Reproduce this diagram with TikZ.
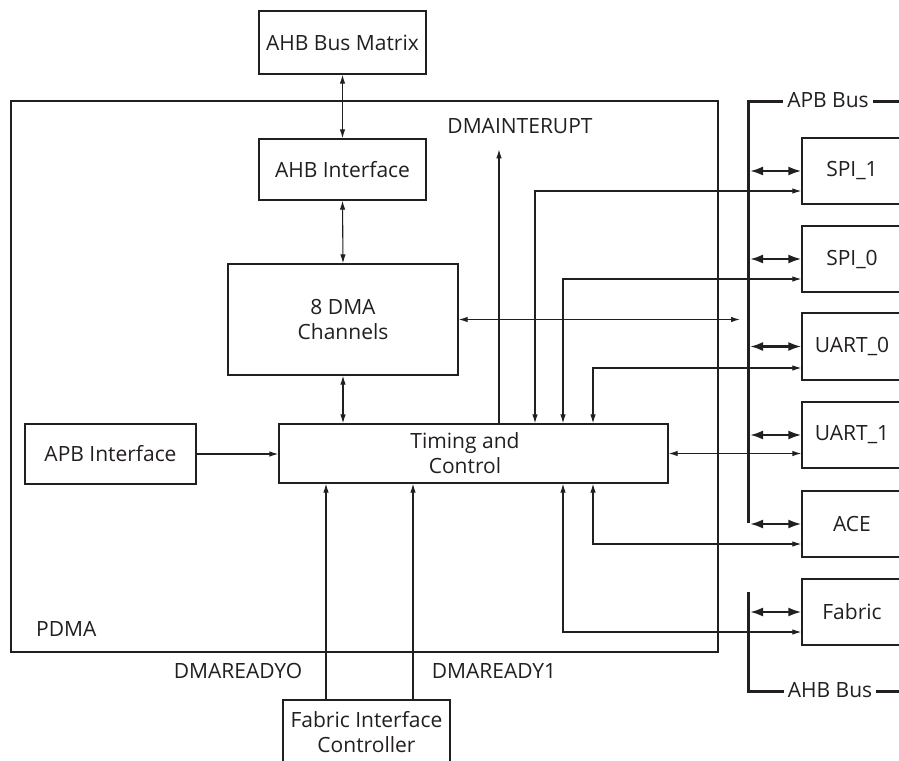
\documentclass[tikz,border=0pt]{standalone}
\usepackage{fontspec}
\setmainfont{Open Sans}
\usetikzlibrary{arrows.meta,calc}
\definecolor{ink}{HTML}{231F20}
\begin{document}
\begin{tikzpicture}[x=1pt,y=-1pt, font=\fontsize{21}{25}\selectfont, color=ink,
 box/.style={draw=ink, line width=1.3pt, inner sep=0pt, align=center},
 sig/.style={line width=1.1pt, -{Latex[length=9pt,width=5.5pt]}},
 sigb/.style={line width=1.1pt, {Latex[length=9pt,width=5.5pt]}-{Latex[length=9pt,width=5.5pt]}},
 bus/.style={line width=3pt},
 busarr/.style={line width=2.2pt, {Latex[length=13pt,width=9pt]}-{Latex[length=13pt,width=9pt]}},
 lbl/.style={inner sep=0pt}]
\useasboundingbox (0,0) rectangle (899,760);
\clip (0,0) rectangle (899,760);
\fill[white] (0,0) rectangle (899,760);
% boxes
\node[box, minimum width=707pt, minimum height=551pt] (pdma) at (364.5,376.5) {};
\node[box, minimum width=167pt, minimum height=63pt] (mat) at (342.5,42.5) {AHB Bus Matrix};
\node[box, minimum width=167pt, minimum height=61pt] (ahbi) at (342.5,169.5) {AHB Interface};
\node[box, minimum width=230pt, minimum height=111pt] (dma) at (343,319.5) {8 DMA\\Channels};
\node[box, minimum width=389pt, minimum height=59pt] (tc) at (473.5,453.5) {};
\node[lbl, align=center] (tctext) at (465,453.5) {Timing and\\Control};
\node[box, minimum width=171pt, minimum height=60pt] (apbi) at (110.5,454) {APB Interface};
\node[box, minimum width=167pt, minimum height=64pt] (fic) at (366.5,732) {Fabric Interface\\Controller};
\node[box, minimum width=100pt, minimum height=66pt] (spi1) at (852,171) {SPI\_1};
\node[box, minimum width=100pt, minimum height=66pt] (spi0) at (852,259) {SPI\_0};
\node[box, minimum width=100pt, minimum height=67pt] (uart0) at (852,346.5) {UART\_0};
\node[box, minimum width=100pt, minimum height=66pt] (uart1) at (852,435) {UART\_1};
\node[box, minimum width=100pt, minimum height=66pt] (ace) at (852,524) {ACE};
\node[box, minimum width=100pt, minimum height=66pt] (fab) at (852,612) {Fabric};
% labels
\node[lbl] (dmaint) at (520,126) {DMAINTERUPT};
\node[lbl] (r0) at (238,671) {DMAREADYO};
\node[lbl] (r1) at (494,671) {DMAREADY1};
\node[lbl, anchor=west] (pdmalbl) at (36,629) {PDMA};
\node[inner sep=4pt] (apblabel) at (828,100) {APB Bus};
\node[inner sep=4pt] (ahblabel) at (830,690) {AHB Bus};
% track coordinates
\coordinate (xI) at (499,0);
\coordinate (xA) at (535,0);
\coordinate (xB) at (563,0);
\coordinate (xC) at (593,0);
\coordinate (xR0) at (326,0);
\coordinate (xR1) at (413,0);
\coordinate (xDB) at (740,0);
\coordinate (xbr) at (750,0);
\coordinate (apbtop) at (748,101);
\coordinate (apbbot) at (748,523);
\coordinate (ahbtop) at (748,592);
\coordinate (ahbbot) at (748,691);
% vertical chain
\draw[sigb] (mat.south) -- (ahbi.north);
\draw[sigb] (ahbi.south) -- (dma.north);
\draw[sigb] (dma.south) -- (dma.south |- tc.north);
\draw[sig] (apbi.east) -- (apbi.east -| tc.west);
\draw[sig] (tc.north -| xI) -- ++(0,-274);
\draw[sigb] (tc.north -| xA) |- ($(spi1.west)+(0,20)$);
\draw[sigb] (tc.north -| xB) |- ($(spi0.west)+(0,20)$);
\draw[sigb] (tc.north -| xC) |- ($(uart0.west)+(0,21.5)$);
\draw[sigb] (tc.east) -- (tc.east -| uart1.west);
\draw[sigb] (tc.south -| xC) |- ($(ace.west)+(0,20)$);
\draw[sigb] (tc.south -| xB) |- ($(fab.west)+(0,20)$);
\draw[sigb] (dma.east) -- (dma.east -| xDB);
\draw[sig] (fic.north -| xR0) -- (tc.south -| xR0);
\draw[sig] (fic.north -| xR1) -- (tc.south -| xR1);
% buses
\draw[bus] (apbbot) -- (apbtop) -- (apbtop -| apblabel.west);
\draw[bus] (apbtop -| apblabel.east) -- ++(40,0);
\draw[bus] (ahbtop) -- (ahbbot) -- (ahbbot -| ahblabel.west);
\draw[bus] (ahbbot -| ahblabel.east) -- ++(40,0);
\draw[busarr] (spi1.west -| xbr) -- (spi1.west);
\draw[busarr] (spi0.west -| xbr) -- (spi0.west);
\draw[busarr] (uart0.west -| xbr) -- (uart0.west);
\draw[busarr] (uart1.west -| xbr) -- (uart1.west);
\draw[busarr] (ace.west -| xbr) -- (ace.west);
\draw[busarr] (fab.west -| xbr) -- (fab.west);
\end{tikzpicture}
\end{document}
